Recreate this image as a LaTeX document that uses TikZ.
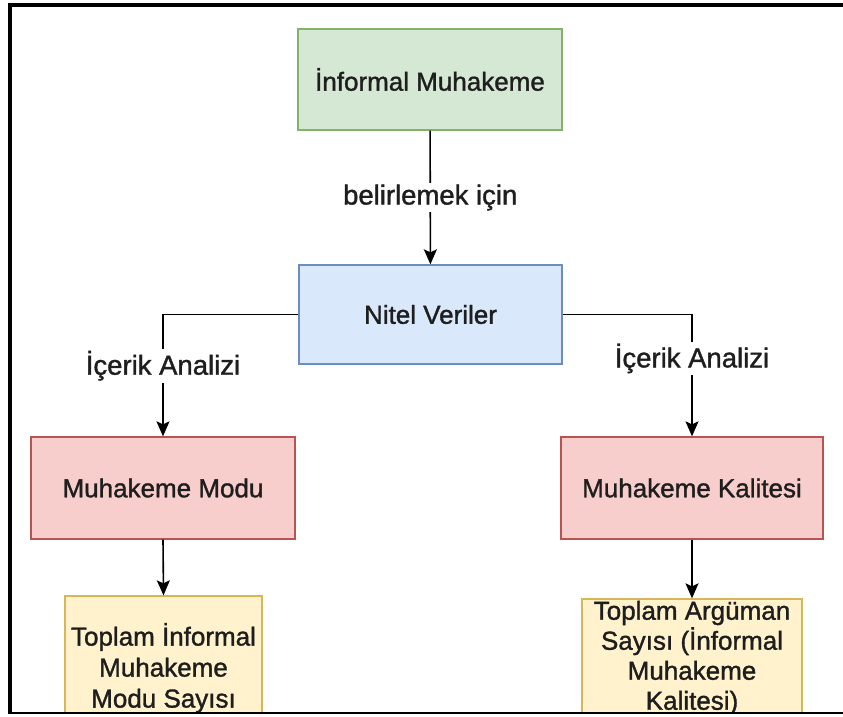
\documentclass[tikz,border=0pt]{standalone}
\usepackage{fontspec}
\setmainfont{Liberation Sans}[BoldFont=Liberation Sans, BoldFeatures={FakeBold=1.3}]
\usetikzlibrary{arrows.meta}
\definecolor{gfill}{HTML}{D5E8D4}\definecolor{gline}{HTML}{82B366}
\definecolor{bfill}{HTML}{DAE8FC}\definecolor{bline}{HTML}{6C8EBF}
\definecolor{rfill}{HTML}{F8CECC}\definecolor{rline}{HTML}{B85450}
\definecolor{yfill}{HTML}{FFF2CC}\definecolor{yline}{HTML}{D6B656}
\definecolor{txt}{HTML}{1E1E1E}
\begin{document}
\begin{tikzpicture}[x=1pt,y=-1pt,
  box/.style={draw, line width=1.3pt, align=center, inner sep=0pt,
    font=\fontsize{26}{31}\selectfont\bfseries, text=txt},
  gbox/.style={box, fill=gfill, draw=gline},
  bbox/.style={box, fill=bfill, draw=bline},
  rbox/.style={box, fill=rfill, draw=rline},
  ybox/.style={box, fill=yfill, draw=yline},
  conn/.style={draw=black, line width=1.6pt, -{Stealth[length=15pt,width=13pt,inset=3pt]}},
  lab/.style={fill=white, inner sep=2pt, font=\fontsize{27.5}{33}\selectfont\bfseries, text=txt}
]
\useasboundingbox (0,0) rectangle (843,717);
\fill[white] (0,0) rectangle (843,717);

\node[gbox, minimum width=264pt, minimum height=101pt] (im) at (430,79.5) {İnformal Muhakeme};
\node[bbox, minimum width=263pt, minimum height=99pt] (nv) at (430.5,314.5) {Nitel Veriler};
\node[rbox, minimum width=264pt, minimum height=102pt] (mm) at (163,488) {Muhakeme Modu};
\node[rbox, minimum width=262pt, minimum height=102pt] (mk) at (692,488) {Muhakeme Kalitesi};

\begin{scope}
  \clip (0,0) rectangle (843,713);
  \node[ybox, minimum width=197pt, minimum height=144pt] (yl) at (163.5,668) {Toplam İnformal\\Muhakeme\\Modu Sayısı};
  \node[ybox, minimum width=220pt, minimum height=118pt, font=\fontsize{26}{30}\selectfont\bfseries] (yr) at (692,658) {Toplam Argüman\\Sayısı (İnformal\\Muhakeme\\Kalitesi)};
\end{scope}

\coordinate (lc) at (163,314.5);
\coordinate (rc) at (692,314.5);

\draw[conn] (im) -- node[lab] {belirlemek için} (nv);
\draw[conn] (nv.west) -- (lc) -- node[lab, pos=0.42] {İçerik Analizi} (mm.north);
\draw[conn] (nv.east) -- (rc) -- node[lab, pos=0.36] {İçerik Analizi} (mk.north);
\draw[conn] (mm.south) -- (yl.north);
\draw[conn] (mk.south) -- (yr.north);

% frame
\draw[line width=4.5pt, line cap=butt] (10,5) -- (843,5);
\draw[line width=4.5pt, line cap=butt] (10,3) -- (10,714);
\draw[line width=2pt, line cap=butt] (8,713) -- (843,713);
\end{tikzpicture}
\end{document}
